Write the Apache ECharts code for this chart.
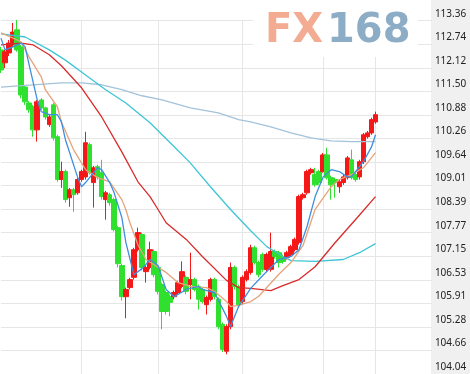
<!DOCTYPE html>
<html><head><meta charset="utf-8">
<script src="https://cdn.jsdelivr.net/npm/echarts@6/dist/echarts.min.js"></script>
<style>html,body{margin:0;padding:0;background:#fff}#c{width:470px;height:374px}</style>
</head><body><div id="c"></div>
<script>
// category slots (trading days); 94 have data, the rest are empty space on the right
const slotCount = 108;
const categories = Array.from({length: slotCount}, (_, i) => 'D' + (i + 1));

// y-axis tick labels, bottom to top
const yTickLabels = ['104.04','104.66','105.28','105.91','106.53','107.15','107.77','108.39','109.01','109.64','110.26','110.88','111.50','112.12','112.74','113.36'];
const yMin = 104.04, yMax = 113.36;

// month boundaries (category indices with a vertical grid line)
const monthStarts = [20, 39, 60, 80, 93];

// candles: [open, close, low, high]
const candles = [
[112.59,112.06,111.98,112.67],[112.25,112.54,112.11,112.59],[112.51,112.77,112.43,112.85],[112.72,113.06,112.67,113.30],
[113.12,112.59,112.54,113.38],[112.67,111.40,111.31,112.72],[111.61,111.22,111.14,111.66],[111.19,111.01,110.93,111.24],
[111.09,110.48,110.30,111.14],[110.48,111.22,110.17,111.27],[111.27,111.06,111.01,111.32],[111.06,110.82,110.75,111.09],
[110.62,110.82,110.56,110.88],[111.14,110.27,110.20,111.19],[110.30,109.17,109.11,110.35],[109.17,109.38,108.95,109.64],
[109.38,108.64,108.56,109.43],[108.69,108.90,108.45,108.95],[108.90,108.77,108.32,108.95],[108.82,109.17,108.77,109.22],
[109.17,109.38,109.11,109.43],[109.24,110.14,109.17,110.43],[110.09,109.35,109.30,110.14],[109.09,109.48,108.43,109.53],
[109.51,109.24,109.17,109.56],[109.35,108.72,108.64,109.69],[108.64,108.82,108.11,108.87],[108.77,108.56,108.48,108.82],
[108.64,107.85,107.80,108.69],[107.90,106.95,106.85,107.95],[106.90,106.08,105.98,106.95],[106.08,106.27,105.51,106.32],
[106.32,106.53,106.27,106.58],[106.59,107.32,106.53,107.37],[107.32,107.77,107.27,107.90],[107.72,106.85,106.77,107.77],
[106.74,106.85,106.45,106.90],[106.85,107.32,106.80,107.53],[107.27,106.66,106.59,107.32],[106.85,106.22,106.14,106.90],
[106.40,105.69,105.22,106.45],[106.19,105.69,105.61,106.24],[106.08,105.93,105.56,106.14],[106.08,106.19,106.01,106.24],
[106.19,106.45,106.14,106.50],[106.35,106.74,106.30,107.01],[106.59,106.22,106.14,106.64],[106.40,106.53,106.01,107.24],
[106.53,106.27,106.22,106.58],[106.35,106.01,105.74,106.40],[106.27,105.95,105.90,106.32],[105.87,106.06,105.61,106.11],
[106.01,106.53,105.95,106.58],[106.53,106.08,106.01,106.58],[106.01,105.29,105.22,106.06],[105.35,104.69,104.62,105.40],
[104.64,105.29,104.56,105.35],[105.29,106.85,105.22,106.98],[106.85,106.35,106.27,106.90],[106.35,105.87,105.80,106.40],
[105.95,106.59,105.87,106.64],[106.53,106.74,106.48,106.80],[106.72,107.37,106.66,107.45],[107.37,106.98,106.93,107.42],
[106.98,106.66,106.59,107.03],[107.19,106.80,106.74,107.24],[106.80,107.19,106.74,107.24],[106.80,107.27,106.74,107.77],
[107.27,107.14,107.08,107.32],[107.24,106.98,106.85,107.29],[107.14,107.01,106.95,107.19],[107.11,107.24,107.06,107.29],
[107.19,107.40,107.14,107.45],[107.32,107.59,107.27,107.64],[107.51,108.72,107.45,108.77],[108.69,108.77,108.64,108.82],
[108.82,109.38,108.77,109.43],[109.35,109.43,109.30,109.48],[109.30,109.03,108.98,109.48],[109.38,109.09,109.03,109.43],
[109.38,109.82,109.35,109.87],[109.82,109.22,109.17,110.01],[109.22,109.03,108.64,109.27],[109.17,109.09,108.69,109.22],
[108.98,109.11,108.82,109.17],[109.09,109.24,109.03,109.30],[109.22,109.74,109.17,109.79],[109.69,109.22,109.17,109.96],
[109.30,109.17,109.11,109.35],[109.24,109.64,109.17,109.69],[109.64,110.35,109.58,110.40],[110.30,110.40,110.25,110.45],
[110.40,110.75,110.35,110.80],[110.69,110.88,110.64,110.96]
];

// moving averages: [category index, value]
const ma5 = [[0,112.90],[1,112.59],[3,112.67],[5,112.77],[6,112.67],[7,112.19],[9,111.27],[10,110.96],[12,110.88],[14,110.88],
[15,110.69],[16,110.22],[19,109.24],[20,108.98],[21,109.09],[23,109.35],[24,109.48],[25,109.43],[27,109.09],[28,108.85],
[30,108.17],[31,107.51],[33,106.66],[35,106.82],[36,106.93],[37,107.06],[39,106.90],[41,106.27],[43,106.08],[46,106.27],
[49,106.35],[50,106.27],[53,106.19],[56,105.56],[57,105.29],[59,105.82],[62,106.30],[65,106.64],[69,107.06],[72,107.14],
[74,107.32],[76,107.93],[78,108.72],[80,109.24],[82,109.43],[84,109.38],[86,109.24],[87,109.24],[90,109.64],[92,110.03],[93,110.35]];
const ma10 = [[0,113.04],[3,112.90],[5,112.80],[7,112.40],[10,111.88],[11,111.54],[14,111.09],[15,110.69],[18,109.96],[21,109.43],
[24,109.22],[27,109.11],[30,108.64],[31,108.38],[32,108.03],[34,107.45],[36,107.06],[39,106.85],[41,106.72],[44,106.45],
[47,106.35],[51,106.32],[53,106.22],[56,105.95],[57,105.82],[59,105.85],[62,105.95],[64,106.09],[69,106.67],[72,106.98],
[75,107.43],[78,108.38],[82,108.98],[84,109.17],[87,109.30],[90,109.48],[93,109.88]];
const ma20 = [[0,112.72],[5,112.77],[8,112.72],[12,112.46],[15,112.17],[20,111.59],[25,110.82],[30,109.90],[34,109.11],[37,108.72],
[39,108.38],[41,108.03],[46,107.59],[50,107.14],[56,106.51],[59,106.32],[62,106.30],[67,106.24],[70,106.37],[74,106.53],
[78,106.87],[83,107.51],[88,108.11],[93,108.72]];
const ma30 = [[0,113.01],[6,112.93],[12,112.59],[16,112.32],[21,111.93],[26,111.54],[31,111.19],[37,110.67],[42,110.14],[47,109.61],
[52,108.98],[57,108.38],[62,107.82],[66,107.40],[70,107.14],[72,107.03],[78,107.01],[85,107.06],[89,107.24],[93,107.48]];
const ma60 = [[0,111.61],[15,111.72],[20,111.72],[25,111.67],[30,111.54],[35,111.38],[40,111.27],[47,111.06],[54,110.93],[59,110.75],
[62,110.69],[67,110.56],[72,110.40],[77,110.27],[82,110.19],[87,110.17],[93,110.17]];

const chart = echarts.init(document.getElementById('c'), null, {renderer: 'canvas'});
const yStep = (yMax - yMin) / (yTickLabels.length - 1);
const lineSeries = (data, color, z) => ({
  type: 'line', data, symbol: 'none', smooth: false, z,
  lineStyle: {color, width: 1.3}, silent: true, animation: false
});
chart.setOption({
  animation: false,
  backgroundColor: '#ffffff',
  grid: {left: 1, right: 38.1, top: 20.7, height: 354},
  xAxis: {
    type: 'category', data: categories, boundaryGap: false,
    axisLine: {show: false}, axisTick: {show: false}, axisLabel: {show: false},
    splitLine: {show: true, interval: (idx) => monthStarts.includes(idx), lineStyle: {color: '#e6e6e6', width: 1}}
  },
  yAxis: {
    type: 'value', position: 'right', min: yMin, max: yMax, interval: yStep,
    axisLine: {show: false}, axisTick: {show: false},
    splitLine: {show: true, lineStyle: {color: '#e6e6e6', width: 1}},
    axisLabel: {
      margin: 3, color: '#222', fontFamily: 'Noto Sans', fontSize: 10,
      verticalAlign: 'bottom', lineHeight: 14,
      formatter: (v) => yTickLabels[Math.round((v - yMin) / yStep)] || ''
    }
  },
  graphic: [
    {type: 'rect', z: -10, shape: {x: 431, y: 0, width: 39, height: 374}, style: {fill: '#f0f0f0'}},
    {type: 'rect', z: 10, shape: {x: 253, y: 2, width: 165, height: 55}, style: {fill: '#ffffff'}},
    {type: 'text', z: 11, x: 265, y: 12, style: {text: 'FX', fill: '#f3ab91', font: 'bold 40px "DejaVu Sans"'}},
    {type: 'text', z: 11, x: 327, y: 12, style: {text: '168', fill: '#8dadc6', font: 'bold 40px "DejaVu Sans"'}}
  ],
  series: [
    {
      type: 'candlestick', data: candles, barWidth: 5, z: 2,
      itemStyle: {color: '#f51818', color0: '#2fe02f', borderColor: '#f51818', borderColor0: '#2fe02f', borderWidth: 1}
    },
    lineSeries(ma60, '#a3c3dc', 3),
    lineSeries(ma30, '#3ec5d5', 3),
    lineSeries(ma20, '#d92b2b', 3),
    lineSeries(ma10, '#e5a47c', 4),
    lineSeries(ma5, '#3f8fdf', 4)
  ]
});
</script></body></html>
